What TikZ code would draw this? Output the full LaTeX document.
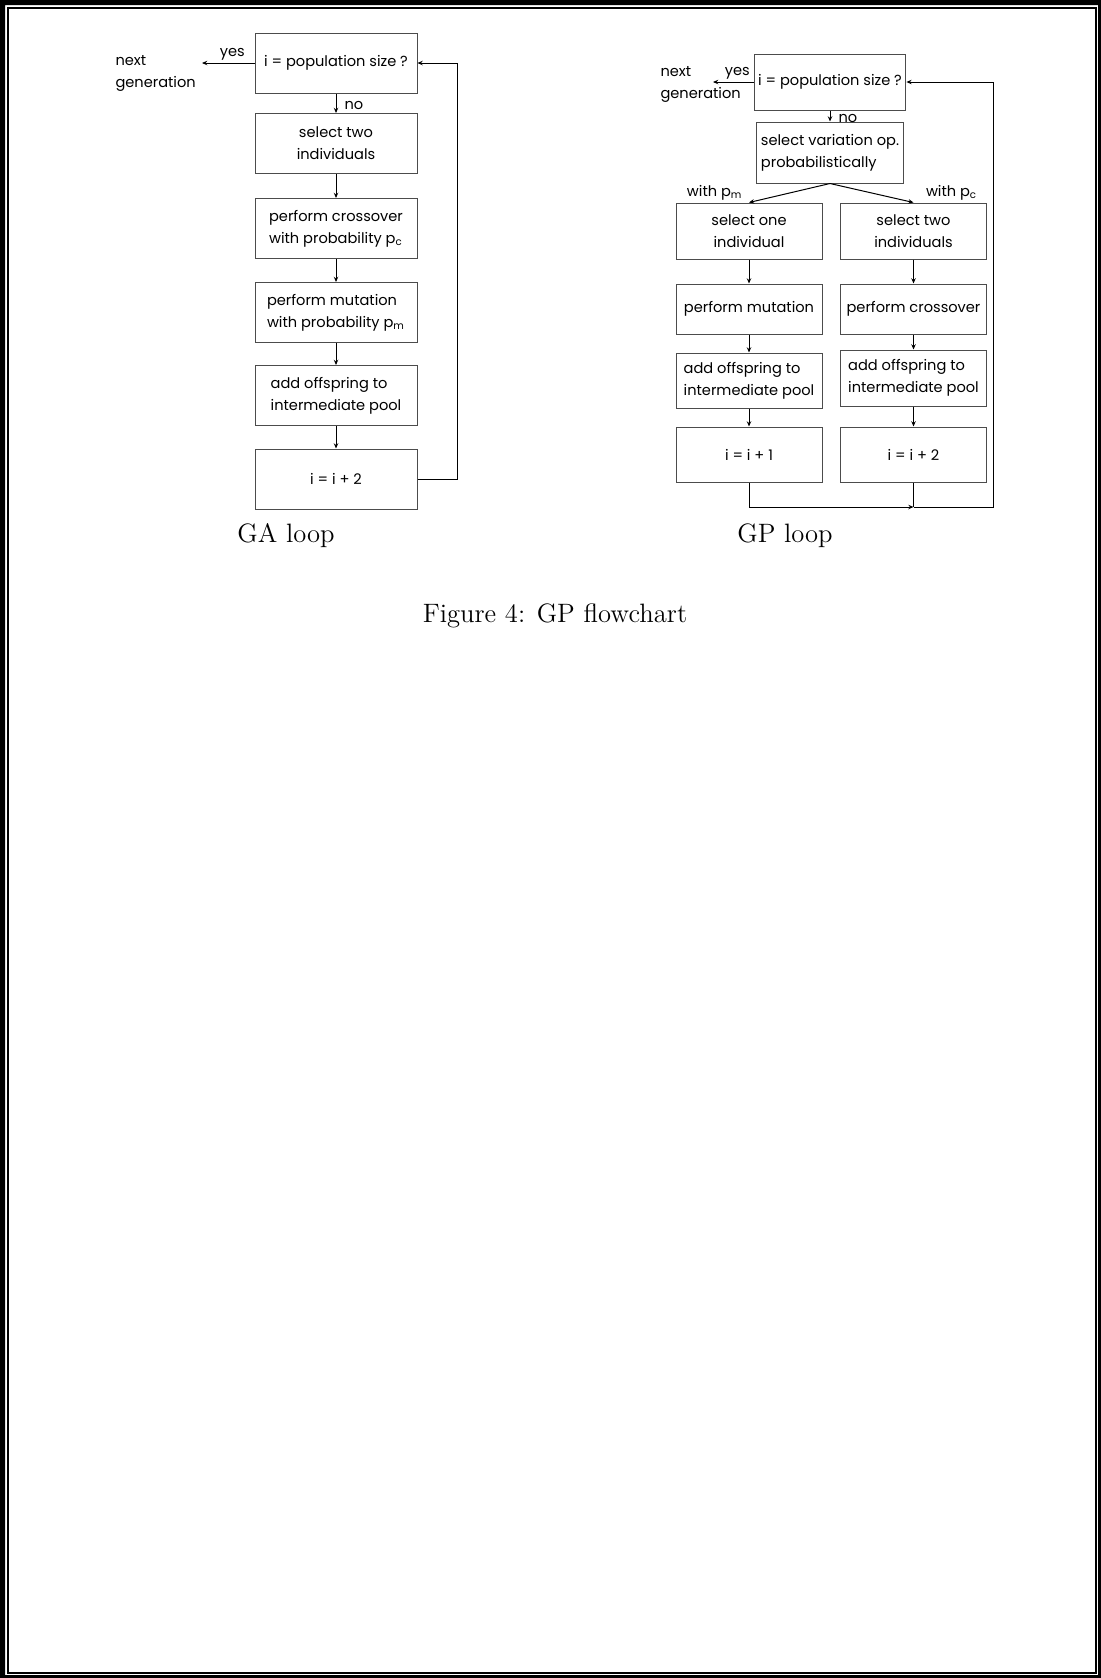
\documentclass[tikz,border=0pt]{standalone}
\usepackage{fontspec}
\newfontfamily\chartfont{Poppins}
\usetikzlibrary{arrows.meta,positioning,calc}

\tikzset{
  gabox/.style={draw=black!70, line width=.5pt, minimum width=81pt, minimum height=30pt, align=left},
  gpbox/.style={draw=black!70, line width=.5pt, minimum width=73pt, inner sep=2pt, align=left},
  lbl/.style={inner sep=1pt},
  capt/.style={font=\normalfont\fontsize{13.3}{16}\selectfont, anchor=base}
}

\begin{document}
\begin{tikzpicture}[x=.5pt, y=-.5pt, font=\chartfont\fontsize{7.3}{11}\selectfont,
  >={Stealth[length=2.6pt,width=2.2pt]}, line width=.5pt]
\useasboundingbox (0,0) rectangle (1101,1678);
% page frame
\fill[even odd rule] (0,0) rectangle (1101,1678) (5,5) rectangle (1098,1675);
\draw[line width=1pt] (8,8) rectangle (1095.5,1672.5);

% GA loop
\node[gabox] (gaTest) at (336,63) {i = population size ?};
\node[gabox, align=center] (gaSel) at (336,143.5) {select two\\individuals};
\node[gabox] (gaCross) at (336,228.5) {perform crossover\\with probability p\textsubscript{c}};
\node[gabox] (gaMut) at (336,312.5) {perform mutation\\with probability p\textsubscript{m}};
\node[gabox] (gaAdd) at (336,395.5) {add offspring to\\intermediate pool};
\node[gabox] (gaInc) at (336,479) {i = i + 2};
\coordinate (gaYes) at (202,63);
\coordinate (gaBack) at (457,479);
\node[lbl, align=left, anchor=base west] (gaNext) at (113,87) {next\\generation};
\draw[->] (gaTest) -- node[lbl, midway, above, xshift=2pt] {yes} (gaYes);
\draw[->] (gaTest) -- node[lbl, midway, right, xshift=3pt, yshift=-1pt] {no} (gaSel);
\draw[->] (gaSel) -- (gaCross);
\draw[->] (gaCross) -- (gaMut);
\draw[->] (gaMut) -- (gaAdd);
\draw[->] (gaAdd) -- (gaInc);
\draw[->] (gaInc.east) -- (gaBack) |- (gaTest.east);
\node[capt] (gaCap) at (286,542) {GA loop};

% GP loop
\node[gpbox, minimum height=28pt] (gpTest) at (830,82) {i = population size ?};
\node[gpbox, minimum height=30.5pt] (gpSel) at (830,152.5) {select variation op.\\probabilistically};
\node[gpbox, minimum height=28pt, align=center] (gpOne) at (749,231) {select one\\individual};
\node[gpbox, minimum height=28pt, align=center] (gpTwo) at (913.5,231) {select two\\individuals};
\node[gpbox, minimum height=25pt] (gpMut) at (749,309) {perform mutation};
\node[gpbox, minimum height=25pt] (gpCross) at (913.5,309) {perform crossover};
\node[gpbox, minimum height=27.5pt] (gpAddA) at (749,380.5) {add offspring to\\intermediate pool};
\node[gpbox, minimum height=28pt] (gpAddB) at (913.5,378) {add offspring to\\intermediate pool};
\node[gpbox, minimum height=27.5pt] (gpIncA) at (749,454.5) {i = i + 1};
\node[gpbox, minimum height=27.5pt] (gpIncB) at (913.5,454.5) {i = i + 2};
\coordinate (gpYes) at (713,82);
\coordinate (gpJoin) at (913.5,507);
\coordinate (gpBack) at (993,507);
\node[lbl, align=left, anchor=base west] (gpNext) at (658,98) {next\\generation};
\draw[->] (gpTest) -- node[lbl, midway, above, xshift=2pt] {yes} (gpYes);
\draw[->] (gpTest) -- node[lbl, midway, right, xshift=3pt, yshift=-1pt] {no} (gpSel);
\draw[->] (gpSel.south) -- node[lbl, at end, above left, xshift=-2pt] {with p\textsubscript{m}} (gpOne.north);
\draw[->] (gpSel.south) -- node[lbl, at end, above right, xshift=5pt] {with p\textsubscript{c}} (gpTwo.north);
\draw[->] (gpOne) -- (gpMut);
\draw[->] (gpTwo) -- (gpCross);
\draw[->] (gpMut) -- (gpAddA);
\draw[->] (gpCross) -- (gpAddB);
\draw[->] (gpAddA) -- (gpIncA);
\draw[->] (gpAddB) -- (gpIncB);
\draw[->] (gpIncA) |- (gpJoin);
\draw (gpIncB) -- (gpJoin);
\draw[->] (gpJoin) -- (gpBack) |- (gpTest.east);
\node[capt] (gpCap) at (785,542) {GP loop};

\node[capt] (figCap) at (555,622) {Figure 4: GP flowchart};
\end{tikzpicture}
\end{document}
